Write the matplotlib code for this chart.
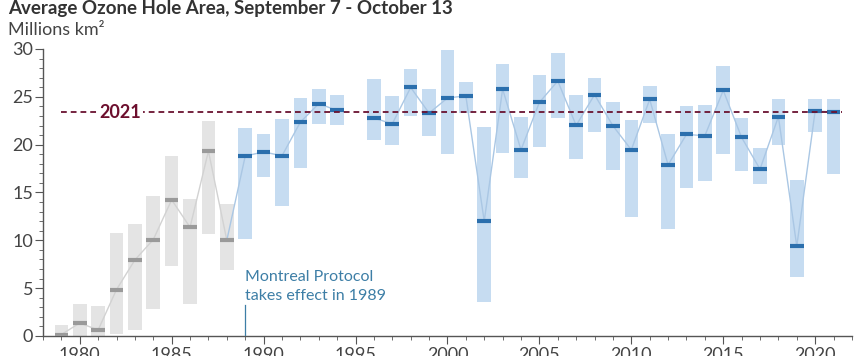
import numpy as np
import matplotlib.pyplot as plt

plt.rcParams['font.family'] = ['Lato', 'DejaVu Sans']

# data (millions of km2); no data for 1995
years = [1979, 1980, 1981, 1982, 1983, 1984, 1985, 1986, 1987, 1988,
         1989, 1990, 1991, 1992, 1993, 1994, 1996, 1997, 1998, 1999,
         2000, 2001, 2002, 2003, 2004, 2005, 2006, 2007, 2008, 2009,
         2010, 2011, 2012, 2013, 2014, 2015, 2016, 2017, 2018, 2019,
         2020, 2021]
mean_area = [0.15, 1.36, 0.63, 4.85, 7.95, 10.08, 14.23, 11.37, 19.32, 10.01,
             18.8, 19.25, 18.83, 22.36, 24.28, 23.58, 22.78, 22.18, 25.98, 23.3,
             24.87, 25.11, 12.0, 25.81, 19.46, 24.42, 26.65, 22.01, 25.22, 21.97,
             19.46, 24.73, 17.89, 21.07, 20.93, 25.67, 20.75, 17.44, 22.92, 9.38,
             23.54, 23.4]
max_area = [1.1, 3.3, 3.1, 10.8, 11.7, 14.65, 18.77, 14.34, 22.46, 13.78,
            21.76, 21.1, 22.64, 24.9, 25.8, 25.2, 26.89, 25.08, 27.94, 25.81,
            29.89, 26.54, 21.87, 28.46, 22.85, 27.24, 29.61, 25.18, 26.96, 24.42,
            22.57, 26.12, 21.07, 24.0, 24.1, 28.22, 22.78, 19.64, 24.8, 16.32,
            24.8, 24.8]
min_area = [0.0, 0.0, 0.0, 0.17, 0.6, 2.86, 7.36, 3.35, 10.64, 6.94,
            10.18, 16.64, 13.57, 17.58, 22.15, 22.08, 20.47, 19.99, 22.99, 20.93,
            19.04, 23.26, 3.56, 19.11, 16.53, 19.78, 22.74, 18.45, 21.28, 17.37,
            12.42, 22.25, 11.2, 15.49, 16.25, 19.04, 17.27, 15.84, 19.99, 6.14,
            21.28, 16.95]

df_years = np.array(years)
mean_a = np.array(mean_area)
lo = np.array(min_area)
hi = np.array(max_area)
early = df_years < 1989
late = ~early

fig = plt.figure(figsize=(8.68, 3.56), dpi=100)
ax = fig.add_axes([0.0495, 0.0562, 0.932, 0.8062])

w = 0.74
ax.bar(df_years[early], hi[early] - lo[early], bottom=lo[early], width=w,
       color='#e4e4e4', zorder=1)
ax.bar(df_years[late], hi[late] - lo[late], bottom=lo[late], width=w,
       color='#c6dcf1', zorder=1)

# connecting lines (gap at 1995)
ax.plot(df_years[early], mean_a[early], color='#d2d2d2', lw=1, zorder=2)
late_x = list(df_years[df_years >= 1988])
late_y = list(mean_a[df_years >= 1988])
i = late_x.index(1996)
late_x.insert(i, 1995)
late_y.insert(i, np.nan)
ax.plot(late_x, late_y, color='#aac7e4', lw=1, zorder=2)

ax.hlines(mean_a[early], df_years[early] - w / 2, df_years[early] + w / 2,
          color='#9a9a9a', lw=3, zorder=3)
ax.hlines(mean_a[late], df_years[late] - w / 2, df_years[late] + w / 2,
          color='#2b6fad', lw=3, zorder=3)

# 2021 reference line
ref = mean_area[-1]
ax.plot([1979, 2021.45], [ref, ref], color='#6a1230', lw=1.3,
        dashes=(3.2, 2.2), zorder=4)
ax.text(1982.2, ref, '2021', color='#6d0f2e', fontsize=13, fontweight='bold',
        ha='center', va='center', zorder=5,
        bbox=dict(facecolor='white', edgecolor='none', pad=1.5))

# Montreal Protocol note
ax.plot([1989, 1989], [0, 3.2], color='#3d7ea6', lw=0.9, zorder=4)
ax.text(1989.0, 3.5, 'Montreal Protocol\ntakes effect in 1989', color='#3d7ea6',
        fontsize=11.5, ha='left', va='bottom', linespacing=1.45)

ax.set_xlim(1978, 2022)
ax.set_ylim(0, 30)
ax.set_xticks(range(1980, 2021, 5))
ax.set_xticks(range(1978, 2023), minor=True)
ax.set_yticks(range(0, 31, 5))
ax.set_yticks(range(0, 31), minor=True)

for s in ['top', 'right']:
    ax.spines[s].set_visible(False)
for s in ['left', 'bottom']:
    ax.spines[s].set_color('#555555')
    ax.spines[s].set_linewidth(1)
ax.tick_params(which='major', length=6, color='#555555', labelsize=13,
               labelcolor='#444444', pad=2)
ax.tick_params(which='minor', length=3, color='#555555')
ax.tick_params(axis='y', which='major', pad=1)

fig.text(0.009, 0.975, 'Average Ozone Hole Area, September 7 - October 13',
         fontsize=13.5, fontweight='bold', color='#333333', ha='left', va='center')
fig.text(0.009, 0.915, 'Millions km\u00b2', fontsize=13, color='#444444',
         ha='left', va='center')

fig.savefig('out.png', dpi=100)
